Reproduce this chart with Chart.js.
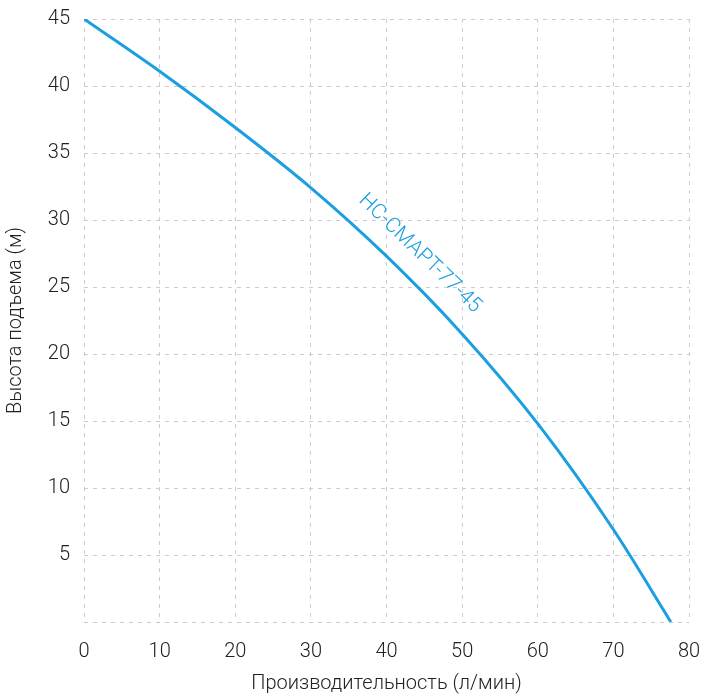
<!DOCTYPE html>
<html lang="ru">
<head>
  <meta charset="UTF-8">
  <title>НС-СМАРТ-77-45</title>
  <script src="https://cdn.jsdelivr.net/npm/chart.js@4"></script>
  <style>
    html, body { margin: 0; padding: 0; background: #fff; }
    #wrap { width: 714px; height: 700px; }
  </style>
</head>
<body>
  <div id="wrap"><canvas id="pumpChart" width="714" height="700"></canvas></div>
  <script>
    // flow (л/мин) vs head (м)
    const flow = [0, 10, 20, 30, 40, 50, 60, 70, 77.6];
    const head = [45, 41.1, 36.9, 32.4, 27.3, 21.5, 14.8, 6.9, 0];
    const seriesName = 'НС-СМАРТ-77-45';
    const labelAt = { x: 44.4, y: 27.5 };

    const blue = '#1b9fe0';
    const family = "Roboto, 'DejaVu Sans', sans-serif";
    const thin = { family: family, size: 20, weight: 300 };

    const points = flow.map((f, i) => ({ x: f, y: head[i] }));

    // draws the series name along the curve
    const curveLabel = {
      id: 'curveLabel',
      afterDatasetsDraw(chart) {
        const { ctx, scales } = chart;
        const px = scales.x.getPixelForValue(labelAt.x);
        const py = scales.y.getPixelForValue(labelAt.y);
        ctx.save();
        ctx.translate(px, py);
        ctx.rotate(44 * Math.PI / 180);
        ctx.fillStyle = blue;
        ctx.font = '300 21px ' + family;
        ctx.textAlign = 'center';
        ctx.textBaseline = 'middle';
        ctx.fillText(seriesName, 0, 0);
        ctx.restore();
      }
    };

    // keep the plot box fixed: no extra room for half tick labels
    function noEdgePadding(axis) {
      axis.paddingTop = 0;
      axis.paddingBottom = 0;
      axis.paddingLeft = 0;
      axis.paddingRight = 0;
    }

    new Chart(document.getElementById('pumpChart'), {
      type: 'line',
      data: {
        datasets: [{
          label: seriesName,
          data: points,
          borderColor: blue,
          borderWidth: 3,
          pointRadius: 0,
          cubicInterpolationMode: 'monotone',
          fill: false
        }]
      },
      options: {
        responsive: false,
        animation: false,
        layout: { padding: { top: 19, right: 25, left: 0, bottom: 0 } },
        plugins: { legend: { display: false }, tooltip: { enabled: false } },
        scales: {
          x: {
            type: 'linear',
            min: 0,
            max: 80,
            ticks: { stepSize: 10, color: '#222', font: thin, padding: 18 },
            grid: { color: '#cccccc', drawTicks: false },
            border: { display: false, dash: [4, 5] },
            title: { display: true, text: 'Производительность (л/мин)', color: '#222', font: thin, padding: { top: 14 } },
            afterFit(axis) { axis.height = 78; noEdgePadding(axis); }
          },
          y: {
            min: 0,
            max: 45,
            ticks: {
              stepSize: 5,
              color: '#222',
              font: thin,
              padding: 14,
              callback: v => v === 0 ? '' : v
            },
            grid: { color: '#cccccc', drawTicks: false },
            border: { display: false, dash: [4, 5] },
            title: { display: true, text: 'Высота подъема (м)', color: '#222', font: thin },
            afterFit(axis) { axis.width = 84; noEdgePadding(axis); }
          }
        }
      },
      plugins: [curveLabel]
    });
  </script>
</body>
</html>
